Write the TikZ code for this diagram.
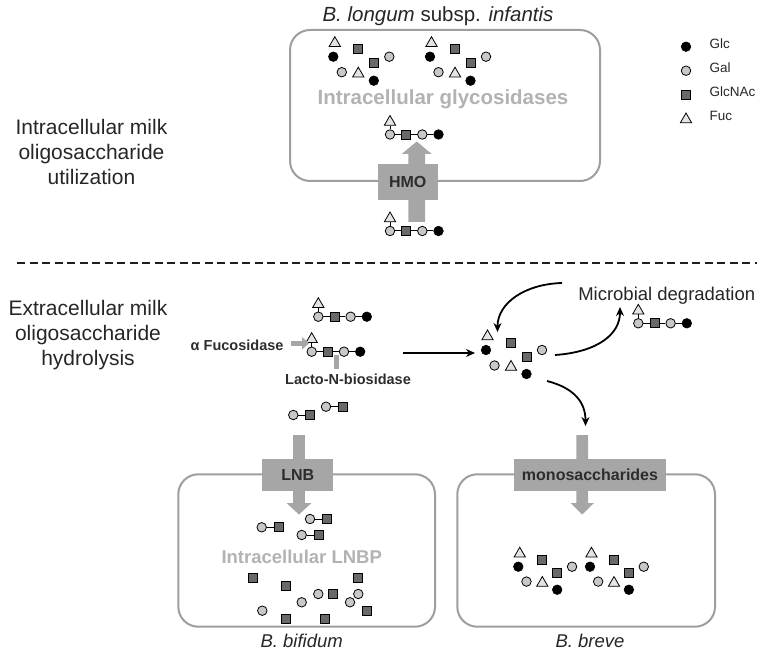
\documentclass[tikz,border=0pt]{standalone}
\usepackage{fontspec}
\setmainfont{Liberation Sans}
\usetikzlibrary{shapes.geometric,arrows.meta}
\definecolor{arrgray}{RGB}{166,166,166}
\definecolor{cellgray}{RGB}{158,158,158}
\definecolor{txtgray}{RGB}{178,178,178}
\definecolor{galfill}{RGB}{200,200,200}
\definecolor{nacfill}{RGB}{105,105,105}
\definecolor{fucfill}{RGB}{228,228,228}
\definecolor{darktxt}{RGB}{45,45,45}
\tikzset{
  glc/.style={circle,fill=black,draw=black,line width=0.7pt,minimum size=9.5pt,inner sep=0pt},
  gal/.style={circle,fill=galfill,draw=black,line width=0.8pt,minimum size=9.5pt,inner sep=0pt},
  nac/.style={rectangle,fill=nacfill,draw=black,line width=0.8pt,minimum size=9pt,inner sep=0pt},
  fuc/.style={regular polygon,regular polygon sides=3,fill=fucfill,draw=black,line width=0.8pt,minimum size=13pt,inner sep=0pt},
  link/.style={line width=1pt,black},
  cellbox/.style={draw=cellgray,line width=2pt,rounded corners=20pt},
  graybox/.style={fill=arrgray,inner sep=0pt,text=darktxt,font=\bfseries\fontsize{16}{18}\selectfont},
  bigarrow/.style={fill=arrgray},
  flowarrow/.style={line width=1.8pt,-{Stealth[length=9pt,width=8pt]}},
  sidelabel/.style={align=center,font=\fontsize{21}{25}\selectfont,text=black!85},
  enzlabel/.style={font=\bfseries\fontsize{14.5}{16}\selectfont,text=darktxt},
  graylabel/.style={font=\bfseries\fontsize{20.5}{22}\selectfont,text=txtgray},
  species/.style={font=\itshape\fontsize{18.5}{20}\selectfont,text=black!85},
  legtext/.style={anchor=west,font=\fontsize{13.5}{15}\selectfont,text=black!85},
}
\newcommand{\sugarchain}[3]{%
  \node[gal] (#1a) at (#2,#3) {};
  \node[nac] (#1b) at ({#2+16.3},#3) {};
  \node[gal] (#1c) at ({#2+32.3},#3) {};
  \node[glc] (#1d) at ({#2+48.5},#3) {};
  \node[fuc] (#1f) at (#2,{#3-12.5}) {};
  \draw[link] (#1a) -- (#1b);
  \draw[link] (#1b) -- (#1c);
  \draw[link] (#1c) -- (#1d);
  \draw[link] (#1f) -- (#1a);
}
\newcommand{\lnbpair}[3]{%
  \node[gal] (#1a) at (#2,#3) {};
  \node[nac] (#1b) at ({#2+16.7},#3) {};
  \draw[link] (#1a) -- (#1b);
}
\newcommand{\monoset}[4]{%
  \begin{scope}[shift={(#2,#3)},scale=#4]
    \node[fuc] (#1t1) at (1.5,-13.5) {};
    \node[nac] (#1s1) at (25,-7.5) {};
    \node[glc] (#1b1) at (0,0) {};
    \node[gal] (#1g1) at (56,0) {};
    \node[nac] (#1s2) at (40.5,6.5) {};
    \node[gal] (#1g2) at (8.5,15.5) {};
    \node[fuc] (#1t2) at (25,17) {};
    \node[glc] (#1b2) at (40.5,24) {};
  \end{scope}
}
\begin{document}
\begin{tikzpicture}[x=1pt,y=-1pt]
\useasboundingbox (0,0) rectangle (762,652);

% ---------- top section ----------
\node[font=\fontsize{20.5}{22}\selectfont,text=black!85] (title) at (438,16) {\textit{B. longum} subsp. \textit{infantis}};
\draw[cellbox] (290,30) rectangle (600,181);
\monoset{ta}{333.3}{56.7}{1}
\monoset{tb}{430}{56.7}{1}
\node[graylabel] (glyco) at (443,99) {Intracellular glycosidases};
\sugarchain{tc}{390}{134.5}
% HMO arrow
\fill[bigarrow] (408.3,222) -- (408.3,154) -- (401.7,154) -- (416.7,141.5) -- (431.7,154) -- (425.1,154) -- (425.1,222) -- cycle;
\node[graybox,minimum width=60pt,minimum height=36pt] (hmo) at (407.7,182) {HMO};
\sugarchain{bc}{390}{231}

% legend
\node[glc] (lglc) at (686,46.7) {};
\node[gal] (lgal) at (686,70.7) {};
\node[nac] (lnac) at (686,95) {};
\node[fuc] (lfuc) at (686,119.5) {};
\node[legtext] (tglc) at (706,43.5) {Glc};
\node[legtext] (tgal) at (706,67.5) {Gal};
\node[legtext] (tnac) at (706,91.5) {GlcNAc};
\node[legtext] (tfuc) at (706,115.5) {Fuc};

% side labels
\node[sidelabel] (intra) at (91.5,152) {Intracellular milk\\oligosaccharide\\utilization};
\coordinate (dashL) at (17,263);
\coordinate (dashR) at (757,263);
\draw[line width=2pt,black!88,dash pattern=on 8pt off 4.5pt] (dashL) -- (dashR);
\node[sidelabel] (extra) at (88,335) {Extracellular milk\\oligosaccharide\\hydrolysis};

% ---------- middle section ----------
\sugarchain{ma}{318.3}{316.7}
\sugarchain{mb}{311.7}{351.7}
\coordinate (fucS) at (291,343.3);
\coordinate (fucE) at (309,343.3);
\draw[arrgray,line width=5pt,-{Triangle[length=7pt,width=12pt]}] (fucS) -- (fucE);
\node[enzlabel,anchor=east] (fucl) at (287,345.5) {α Fucosidase};
\coordinate (lnbS) at (336.7,369);
\coordinate (lnbE) at (336.7,354.5);
\draw[arrgray,line width=5pt] (lnbS) -- (lnbE);
\node[enzlabel] (lnbl) at (348,379.5) {Lacto-N-biosidase};
\lnbpair{fa}{293.3}{415}
\lnbpair{fb}{326}{406.7}

\monoset{mc}{486}{350}{1}
\coordinate (hS) at (403,353);
\coordinate (hE) at (475,353);
\draw[flowarrow] (hS) -- (hE);

\node[font=\fontsize{18.5}{20}\selectfont,text=black!85] (micro) at (666.7,296) {Microbial degradation};
\sugarchain{md}{638.3}{323.3}
\coordinate (c1s) at (562,283);
\coordinate (c1e) at (497.5,332);
\draw[flowarrow] (c1s) .. controls (525,284) and (497.5,303) .. (c1e);
\coordinate (c2s) at (555,355);
\coordinate (c2e) at (620,307);
\draw[flowarrow] (c2s) .. controls (598,352) and (620,334) .. (c2e);
\coordinate (c3s) at (547,381);
\coordinate (c3e) at (585.5,426);
\draw[flowarrow] (c3s) .. controls (574,388) and (585.5,402) .. (c3e);

% ---------- bottom-left cell ----------
\draw[cellbox] (178.3,474.3) rectangle (435,626.7);
\fill[bigarrow] (293.2,435) -- (293.2,503) -- (286.5,503) -- (299,514.5) -- (311.5,503) -- (304.8,503) -- (304.8,435) -- cycle;
\node[graybox,minimum width=71pt,minimum height=31.5pt] (lnbbox) at (297.8,475) {LNB};
\lnbpair{ca}{261.7}{527.3}
\lnbpair{cb}{310}{519}
\lnbpair{cc}{301.7}{535}
\node[graylabel,font=\bfseries\fontsize{18.5}{22}\selectfont] (lnbp) at (301.7,556.7) {Intracellular LNBP};
\node[nac] (s1) at (253.3,578.3) {};
\node[nac] (s2) at (285.7,585.7) {};
\node[nac] (s3) at (358.3,578.3) {};
\node[nac] (s4) at (333.3,594) {};
\node[nac] (s5) at (366.7,610.7) {};
\node[nac] (s6) at (285.7,619) {};
\node[nac] (s7) at (325,619) {};
\node[gal] (g1) at (318.3,594) {};
\node[gal] (g2) at (301.7,602.3) {};
\node[gal] (g3) at (358.3,594) {};
\node[gal] (g4) at (350,602.3) {};
\node[gal] (g5) at (262.3,610.7) {};
\node[species] (bifidum) at (301.7,641) {B. bifidum};

% ---------- bottom-right cell ----------
\draw[cellbox] (457.3,474.3) rectangle (715,626.7);
\fill[bigarrow] (576.4,435) -- (576.4,503) -- (570.5,503) -- (582.2,514.5) -- (594,503) -- (588,503) -- (588,435) -- cycle;
\node[graybox,minimum width=152pt,minimum height=31.5pt] (monobox) at (590,475) {monosaccharides};
\monoset{ra}{518.3}{566.7}{0.96}
\monoset{rb}{590}{566.7}{0.96}
\node[species] (breve) at (590,641) {B. breve};
\end{tikzpicture}
\end{document}
